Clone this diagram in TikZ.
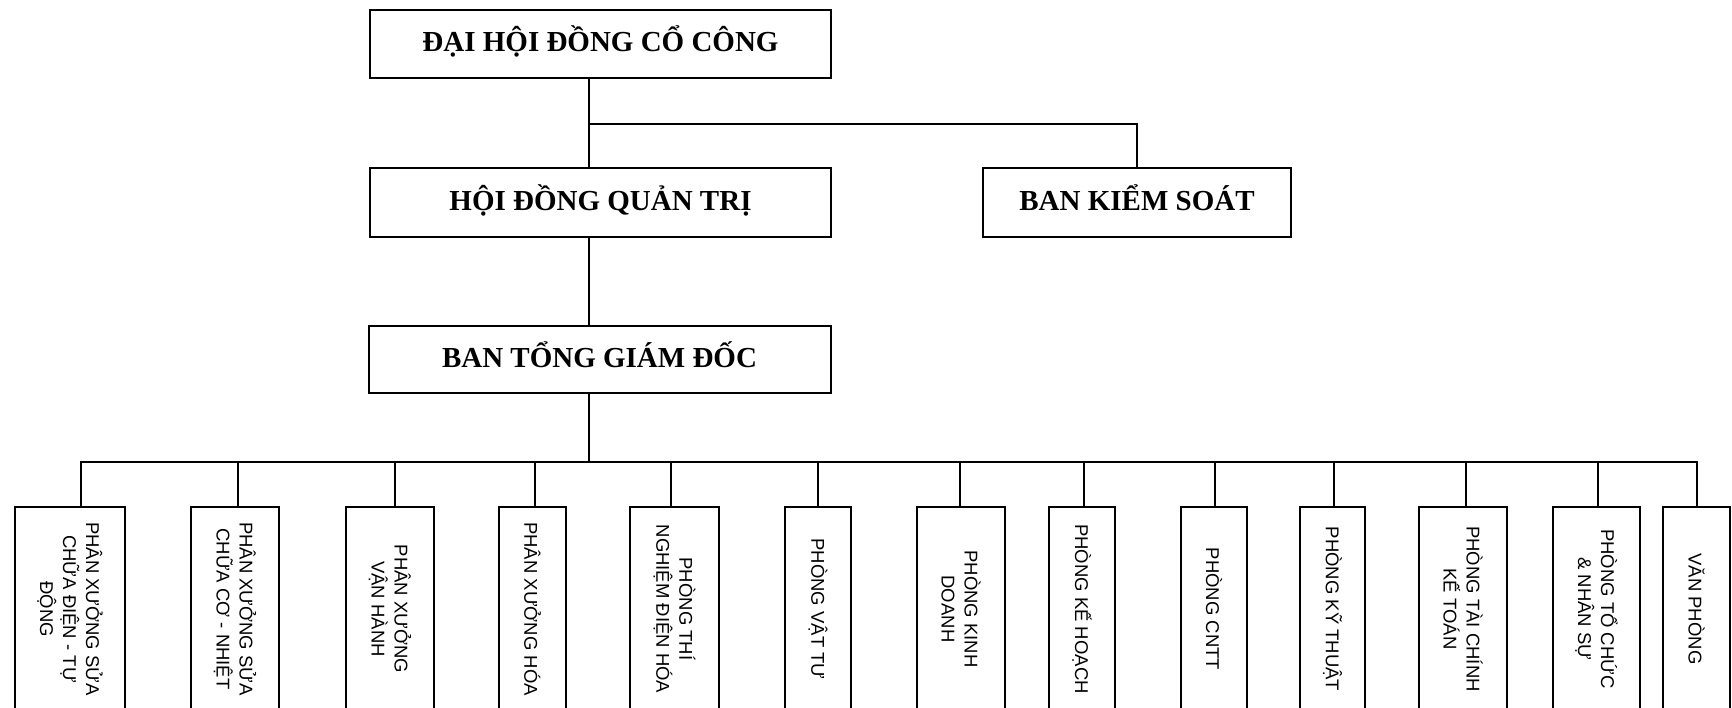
\documentclass[tikz,border=0pt]{standalone}
\usepackage{fontspec}
\setmainfont{Liberation Serif}
\newfontfamily\sansf{Liberation Sans}
\begin{document}
\begin{tikzpicture}[x=1pt,y=-1pt,
  topbox/.style={draw, line width=2pt, inner sep=0pt, text height=20pt, text depth=5pt, font=\bfseries\fontsize{29}{34}\selectfont},
  unitbox/.style={draw, line width=2pt, inner sep=0pt, rotate=-90, minimum width=204pt, align=center, font=\sansf\fontsize{18.5}{23}\selectfont},
  link/.style={line width=1.6pt}]
\fill[white] (0,0) rectangle (1732,707);
\clip (0,0) rectangle (1732,707);
% upper levels
\node[topbox, minimum width=461pt, minimum height=68pt] (dhd) at (600.5,44) {ĐẠI HỘI ĐỒNG CỔ CÔNG};
\node[topbox, minimum width=461pt, minimum height=69pt] (hdqt) at (600.5,202.5) {HỘI ĐỒNG QUẢN TRỊ};
\node[topbox, minimum width=308pt, minimum height=69pt] (bks) at (1137,202.5) {BAN KIỂM SOÁT};
\node[topbox, minimum width=462pt, minimum height=67pt] (btgd) at (599.5,359.5) {BAN TỔNG GIÁM ĐỐC};
% units
\node[unitbox, minimum height=110pt] (u1) at (70,609) {PHÂN XƯỞNG SỬA\\CHỮA ĐIỆN - TỰ\\ĐỘNG};
\node[unitbox, minimum height=88pt] (u2) at (235,609) {PHÂN XƯỞNG SỬA\\CHỮA CƠ - NHIỆT};
\node[unitbox, minimum height=88pt] (u3) at (390,609) {PHÂN XƯỞNG\\VẬN HÀNH};
\node[unitbox, minimum height=67pt] (u4) at (532.5,609) {PHÂN XƯỞNG HÓA};
\node[unitbox, minimum height=89pt] (u5) at (674.5,609) {PHÒNG THÍ\\NGHIỆM ĐIỆN HÓA};
\node[unitbox, minimum height=66pt] (u6) at (818,609) {PHÒNG VẬT TƯ};
\node[unitbox, minimum height=88pt] (u7) at (961,609) {PHÒNG KINH\\DOANH};
\node[unitbox, minimum height=66pt] (u8) at (1082,609) {PHÒNG KẾ HOẠCH};
\node[unitbox, minimum height=66pt] (u9) at (1214,609) {PHÒNG CNTT};
\node[unitbox, minimum height=65pt] (u10) at (1332.5,609) {PHÒNG KỸ THUẬT};
\node[unitbox, minimum height=88pt] (u11) at (1463,609) {PHÒNG TÀI CHÍNH\\KẾ TOÁN};
\node[unitbox, minimum height=87pt] (u12) at (1596.5,609) {PHÒNG TỔ CHỨC\\\& NHÂN SỰ};
\node[unitbox, minimum height=67pt] (u13) at (1696.5,609) {VĂN PHÒNG};
% connectors upper
\coordinate (k) at (589,124);
\coordinate (bus) at (589,462);
\draw[link] (k |- dhd.south) -- (k |- hdqt.north);
\draw[link] (k) -| (bks.north);
\draw[link] (k |- hdqt.south) -- (k |- btgd.north);
\draw[link] (k |- btgd.south) -- (bus);
% bus
\coordinate (c1) at (81,462);
\coordinate (c2) at (238,462);
\coordinate (c3) at (395,462);
\coordinate (c4) at (535,462);
\coordinate (c5) at (671,462);
\coordinate (c6) at (818,462);
\coordinate (c7) at (960,462);
\coordinate (c8) at (1084,462);
\coordinate (c9) at (1215,462);
\coordinate (c10) at (1334,462);
\coordinate (c11) at (1466,462);
\coordinate (c12) at (1598,462);
\coordinate (c13) at (1697,462);
\draw[link] (c1 |- u1.west) -- (c1) -- (c13) -- (c13 |- u13.west);
\foreach \i in {2,...,12}{
  \draw[link] (c\i) -- (c\i |- u\i.west);
}
\end{tikzpicture}
\end{document}
